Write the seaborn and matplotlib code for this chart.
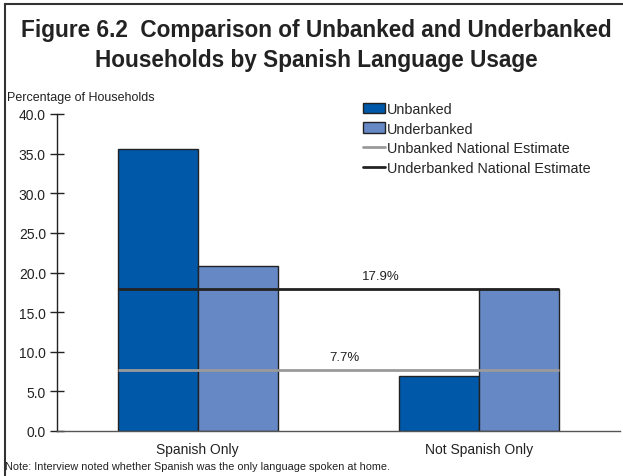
import matplotlib
matplotlib.use("Agg")
import matplotlib.pyplot as plt
from matplotlib.patches import Patch, Rectangle
from matplotlib.lines import Line2D
import seaborn as sns
import pandas as pd

categories = ["Spanish Only", "Not Spanish Only"]
series = ["Unbanked", "Underbanked"]
unbanked = [35.6, 7.0]
underbanked = [20.8, 17.9]
unbanked_national = 7.7
underbanked_national = 17.9
yticks = [0, 5, 10, 15, 20, 25, 30, 35, 40]

colors = {"Unbanked": "#0058A8", "Underbanked": "#6688C4"}
grey_line = "#9A9A9A"
dark_line = "#222222"

df = pd.DataFrame({
    "category": categories * 2,
    "group": ["Unbanked"] * 2 + ["Underbanked"] * 2,
    "value": unbanked + underbanked,
})

sns.set_theme(style="white")
plt.rcParams["font.family"] = ["Liberation Sans", "DejaVu Sans"]

fig = plt.figure(figsize=(6.23, 4.77), dpi=100)
ax = fig.add_axes([57 / 623, 1 - 432 / 477, (620 - 57) / 623, (432 - 115) / 477])

bar_w = 0.57
sns.barplot(data=df, x="category", y="value", hue="group", order=categories,
            hue_order=series, palette=colors, width=bar_w, dodge=True,
            edgecolor="#222222", linewidth=1.0, saturation=1, ax=ax, legend=False)

x0, x1 = -bar_w / 2, 1 + bar_w / 2
ax.hlines(underbanked_national, x0, x1, color=dark_line, linewidth=2, zorder=5)
ax.hlines(unbanked_national, x0, x1, color=grey_line, linewidth=2, zorder=5)
ax.text(0.65, underbanked_national + 0.9, f"{underbanked_national:.1f}%",
        ha="center", va="bottom", fontsize=9.5, color="#222222")
ax.text(0.52, unbanked_national + 0.9, f"{unbanked_national:.1f}%",
        ha="center", va="bottom", fontsize=9.5, color="#222222")

ax.set_xlim(-0.5, 1.5)
ax.set_ylim(0, 40)
ax.set_yticks(yticks)
ax.set_yticklabels([f"{v:.1f}" for v in yticks], fontsize=10, color="#222222")
ax.set_xticks([0.5, 1.5])
ax.set_xticklabels([])
ax.set_xticks([0, 1], minor=True)
ax.set_xticklabels(categories, minor=True, fontsize=10, color="#222222")
ax.tick_params(axis="x", which="minor", length=0, pad=8)
ax.tick_params(axis="x", which="major", direction="out", length=7, width=1, color="#222222")
ax.tick_params(axis="y", direction="inout", length=10, width=1, color="#222222", pad=3, left=True)
ax.set_xlabel("")
ax.set_ylabel("")
for s in ["top", "right"]:
    ax.spines[s].set_visible(False)
ax.spines["left"].set_color("#222222")
ax.spines["left"].set_linewidth(1)
ax.spines["bottom"].set_color("#555555")
ax.spines["bottom"].set_linewidth(1)

handles = [
    Patch(facecolor=colors["Unbanked"], edgecolor="#222222", linewidth=1),
    Patch(facecolor=colors["Underbanked"], edgecolor="#222222", linewidth=1),
    Line2D([], [], color=grey_line, linewidth=2),
    Line2D([], [], color=dark_line, linewidth=2),
]
labels = ["Unbanked", "Underbanked", "Unbanked National Estimate", "Underbanked National Estimate"]
fig.legend(handles, labels, loc="upper left", bbox_to_anchor=(357 / 623, 1 - 97 / 477),
           frameon=False, fontsize=10.4, handlelength=1.55, handleheight=0.7,
           handletextpad=0.15, labelspacing=0.4, borderaxespad=0)

fig.text(7 / 623, 1 - 98 / 477, "Percentage of Households", fontsize=9,
         ha="left", va="center", color="#222222")
fig.text(5 / 623, 1 - 467 / 477, "Note: Interview noted whether Spanish was the only language spoken at home.",
         fontsize=7.8, ha="left", va="center", color="#222222")

title_font = ["Liberation Sans", "DejaVu Sans"]
fig.text(316 / 623, 1 - 31 / 477, "Figure 6.2  Comparison of Unbanked and Underbanked",
         fontsize=16.3, fontweight="bold", family=title_font, ha="center", va="center",
         color="#222222")
fig.text(316 / 623, 1 - 61 / 477, "Households by Spanish Language Usage",
         fontsize=16.3, fontweight="bold", family=title_font, ha="center", va="center",
         color="#222222")

fig.patches.append(Rectangle((5 / 623, -0.1), 1.2, 1.1 - 5 / 477, transform=fig.transFigure,
                             fill=False, edgecolor="#333333", linewidth=1.5))

fig.savefig("out.png", dpi=100)
